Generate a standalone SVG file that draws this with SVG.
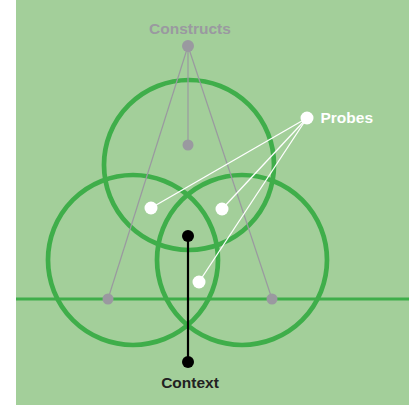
<svg xmlns="http://www.w3.org/2000/svg" width="409" height="412" viewBox="0 0 409 412">
<style>
.ring{fill:none;stroke:#3fae4a;stroke-width:4.7}
.gl{stroke:#9a99a0;stroke-width:1.2;fill:none}
.wl{stroke:#fff;stroke-width:1.3;fill:none}
.gd{fill:#9a99a0}
.wd{fill:#fff}
.bd{fill:#000}
.lbl{font-family:"Liberation Sans",Arial,sans-serif;font-weight:bold;font-size:15.5px}
</style>
<rect x="16" y="0" width="393" height="405" fill="#a3cf9a"/>
<g id="rings">
<circle class="ring" cx="189" cy="165" r="85"/>
<circle class="ring" cx="133" cy="260" r="85"/>
<circle class="ring" cx="242" cy="260" r="85"/>
<line x1="16" y1="299" x2="409" y2="299" stroke="#3fae4a" stroke-width="2.8"/>
</g>
<g id="connectors">
<line class="gl" x1="188" y1="46" x2="188" y2="145"/>
<line class="gl" x1="188" y1="46" x2="108" y2="299"/>
<line class="gl" x1="188" y1="46" x2="272" y2="299"/>
<line class="wl" x1="307" y1="118" x2="151" y2="208"/>
<line class="wl" x1="307" y1="118" x2="222" y2="209"/>
<line class="wl" x1="307" y1="118" x2="199" y2="282"/>
<line x1="188" y1="236" x2="188" y2="362" stroke="#000" stroke-width="2.2"/>
</g>
<g id="constructs">
<text class="lbl" x="190" y="33.5" text-anchor="middle" fill="#9a99a0">Constructs</text>
<circle class="gd" cx="188" cy="46" r="6"/>
</g>
<g id="construct-mid"><circle class="gd" cx="188" cy="145" r="5.5"/></g>
<g id="construct-left"><circle class="gd" cx="108" cy="299" r="5.5"/></g>
<g id="construct-right"><circle class="gd" cx="272" cy="299" r="5.5"/></g>
<g id="probes">
<circle class="wd" cx="307" cy="118" r="6.5"/>
<text class="lbl" x="320.5" y="123" fill="#fff">Probes</text>
</g>
<g id="probe-1"><circle class="wd" cx="151" cy="208" r="6.5"/></g>
<g id="probe-2"><circle class="wd" cx="222" cy="209" r="6.5"/></g>
<g id="probe-3"><circle class="wd" cx="199" cy="282" r="6.5"/></g>
<g id="context-top"><circle class="bd" cx="188" cy="236" r="6"/></g>
<g id="context">
<circle class="bd" cx="188" cy="362" r="6"/>
<text class="lbl" x="190" y="387.5" text-anchor="middle" fill="#222">Context</text>
</g>
</svg>
